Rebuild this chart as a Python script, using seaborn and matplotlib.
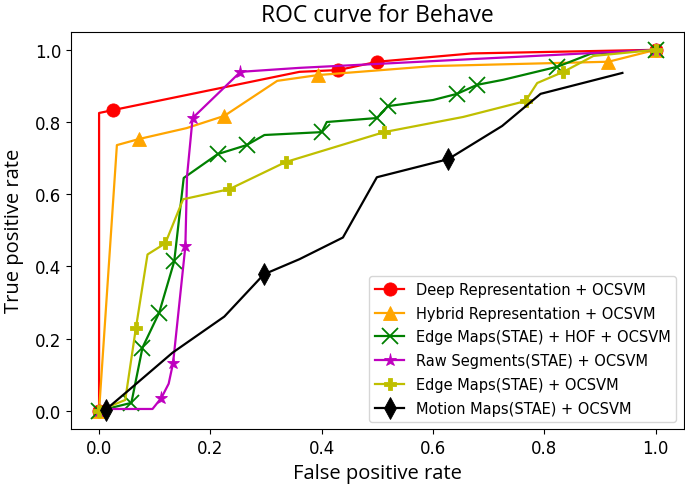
import numpy as np
import matplotlib
matplotlib.use("Agg")
import matplotlib.pyplot as plt
import seaborn as sns

''' ROC data read off the reference '''
# Deep Representation + OCSVM
deep_fpr = [0.0, 0.0, 0.025, 0.36, 0.43, 0.50, 0.67, 1.0]
deep_tpr = [0.0, 0.825, 0.833, 0.939, 0.944, 0.967, 0.99, 1.0]
deep_marks = [0, 2, 4, 5, 7]

# Hybrid Representation + OCSVM
hyb_fpr = [0.0, 0.032, 0.072, 0.157, 0.225, 0.32, 0.393, 0.60, 0.915, 1.0]
hyb_tpr = [0.0, 0.736, 0.753, 0.783, 0.817, 0.914, 0.93, 0.955, 0.967, 1.0]
hyb_marks = [0, 2, 4, 6, 8, 9]

# Edge Maps(STAE) + HOF + OCSVM
ehof_fpr = [0.0, 0.058, 0.078, 0.108, 0.135, 0.152, 0.213, 0.265, 0.297, 0.40,
            0.409, 0.499, 0.519, 0.60, 0.643, 0.679, 0.726, 0.823, 0.883, 1.0]
ehof_tpr = [0.0, 0.022, 0.175, 0.272, 0.414, 0.645, 0.711, 0.736, 0.764, 0.772,
            0.80, 0.811, 0.844, 0.861, 0.878, 0.903, 0.917, 0.953, 0.989, 1.0]
ehof_marks = [0, 1, 2, 3, 4, 6, 7, 9, 11, 12, 14, 15, 17, 19]

# Raw Segments(STAE) + OCSVM
raw_fpr = [0.0, 0.02, 0.096, 0.112, 0.125, 0.133, 0.155, 0.158, 0.168, 0.254, 0.36, 1.0]
raw_tpr = [0.0, 0.005, 0.005, 0.036, 0.075, 0.133, 0.456, 0.65, 0.811, 0.939, 0.95, 1.0]
raw_marks = [0, 3, 5, 6, 8, 9, 11]

# Edge Maps(STAE) + OCSVM
edge_fpr = [0.0, 0.047, 0.066, 0.087, 0.119, 0.151, 0.234, 0.335, 0.512, 0.654,
            0.766, 0.787, 0.834, 0.888, 1.0]
edge_tpr = [0.0, 0.03, 0.228, 0.433, 0.464, 0.586, 0.614, 0.689, 0.772, 0.814,
            0.858, 0.908, 0.939, 0.983, 1.0]
edge_marks = [0, 2, 4, 6, 7, 8, 10, 12, 14]

# Motion Maps(STAE) + OCSVM
mot_fpr = [0.012, 0.054, 0.132, 0.225, 0.296, 0.36, 0.438, 0.499, 0.627, 0.724, 0.793, 0.94]
mot_tpr = [0.003, 0.058, 0.161, 0.261, 0.378, 0.42, 0.48, 0.647, 0.697, 0.789, 0.878, 0.936]
mot_marks = [0, 4, 8]

series = [
    ("Deep Representation + OCSVM", deep_fpr, deep_tpr, deep_marks, "red", "o", 9.5),
    ("Hybrid Representation + OCSVM", hyb_fpr, hyb_tpr, hyb_marks, "orange", "^", 10),
    ("Edge Maps(STAE) + HOF + OCSVM", ehof_fpr, ehof_tpr, ehof_marks, "green", "x", 11),
    ("Raw Segments(STAE) + OCSVM", raw_fpr, raw_tpr, raw_marks, "m", "*", 9.5),
    ("Edge Maps(STAE) + OCSVM", edge_fpr, edge_tpr, edge_marks, "y", "P", 9),
    ("Motion Maps(STAE) + OCSVM", mot_fpr, mot_tpr, mot_marks, "black", "d", 11),
]

fig, ax = plt.subplots(figsize=(6.85, 4.89), dpi=100)
fig.subplots_adjust(left=0.104, right=0.998, top=0.933, bottom=0.121)

for name, fpr, tpr, marks, col, mk, ms in series:
    sns.lineplot(x=fpr, y=tpr, sort=False, estimator=None, ax=ax, color=col,
                 marker=mk, markevery=marks, markersize=ms, linewidth=1.6,
                 markeredgecolor=col, markerfacecolor=col,
                 markeredgewidth=1.3 if mk == "x" else 0.6, label=name)

label_font = ["Open Sans", "DejaVu Sans"]
ax.set_title("ROC curve for Behave", fontsize=16.5, family=label_font, pad=8)
ax.set_xlabel("False positive rate", fontsize=14.5, family=label_font, labelpad=5)
ax.set_ylabel("True positive rate", fontsize=14.5, family=label_font, labelpad=8)
ax.set_xlim(-0.05, 1.05)
ax.set_ylim(-0.05, 1.05)
ax.tick_params(labelsize=12)
ax.legend(loc="lower right", fontsize=10.5, labelspacing=0.6)

plt.savefig("out.png", dpi=100)
